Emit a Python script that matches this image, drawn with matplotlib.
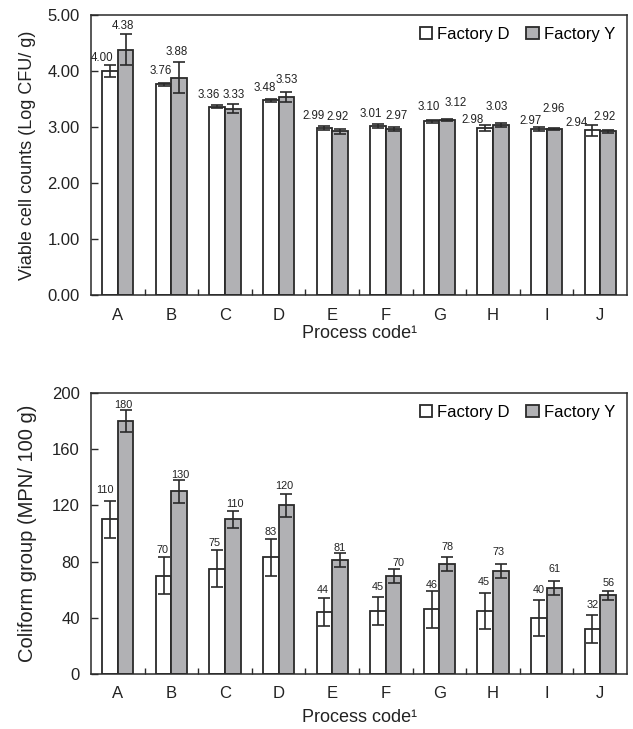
import numpy as np
import matplotlib
matplotlib.use("Agg")
import matplotlib.pyplot as plt

plt.rcParams["font.family"] = ["Liberation Sans", "DejaVu Sans"]

codes = ["A", "B", "C", "D", "E", "F", "G", "H", "I", "J"]

# viable cell counts (Log CFU/ g)
viable_d = [4.00, 3.76, 3.36, 3.48, 2.99, 3.01, 3.10, 2.98, 2.97, 2.94]
viable_d_err = [0.10, 0.025, 0.025, 0.025, 0.035, 0.035, 0.03, 0.055, 0.035, 0.10]
viable_y = [4.38, 3.88, 3.33, 3.53, 2.92, 2.97, 3.12, 3.03, 2.96, 2.92]
viable_y_err = [0.28, 0.28, 0.08, 0.09, 0.05, 0.035, 0.02, 0.035, 0.015, 0.03]

# coliform group (MPN/ 100 g)
coli_d = [110, 70, 75, 83, 44, 45, 46, 45, 40, 32]
coli_d_err = [13, 13, 13, 13, 10, 10, 13, 13, 13, 10]
coli_y = [180, 130, 110, 120, 81, 70, 78, 73, 61, 56]
coli_y_err = [8, 8, 6, 8, 5, 5, 5, 5, 5, 3]

# value label placement (hand placed in the original): x shift in px, y centre
viable_d_lab = [(-7.5, 4.23), (-2.6, 4.00), (-8, 3.58), (-5.8, 3.69), (-10.4, 3.20),
                (-7.7, 3.24), (-2.9, 3.35), (-12.7, 3.125), (-7.8, 3.11), (-15.4, 3.08)]
viable_y_lab = [(-2.6, 4.81), (-2.2, 4.34), (1.2, 3.58), (0, 3.84), (-2, 3.17),
                (3.4, 3.20), (8.8, 3.42), (-3.8, 3.35), (-0.4, 3.32), (-3, 3.17)]
coli_d_lab = [(-5.3, 131.1), (-1, 88.3), (-3, 93.1), (0, 101), (-1.4, 59.9),
              (0, 61.8), (0, 63.4), (-1.2, 65.8), (0, 59.9), (0, 49.2)]
coli_y_lab = [(-2, 191.7), (0.8, 141.8), (2.5, 121.1), (-2.4, 134), (0, 90),
              (5, 79.3), (0.8, 90.7), (-2, 86.5), (0, 74.6), (0.8, 64.6)]

W, H = 633, 729
fig = plt.figure(figsize=(W / 100, H / 100), dpi=100)

gray = "#b1b1b4"
edge = "#2a2a2a"
bw = 0.29


def panel(ax, d, de, y, ye, dlab, ylab, ylim, yticks, fmt, ylabel, ysize,
          vsize, xlab_y, ylab_x):
    x = np.arange(len(codes))
    ax.bar(x - bw / 2, d, bw, color="white", edgecolor=edge, linewidth=1.3,
           label="Factory D", zorder=2)
    ax.bar(x + bw / 2, y, bw, color=gray, edgecolor=edge, linewidth=1.3,
           label="Factory Y", zorder=2)
    ax.errorbar(x - bw / 2, d, yerr=de, fmt="none", ecolor=edge, elinewidth=1.2,
                capsize=4.5, capthick=1.2, zorder=3)
    ax.errorbar(x + bw / 2, y, yerr=ye, fmt="none", ecolor=edge, elinewidth=1.2,
                capsize=4.5, capthick=1.2, zorder=3)
    for i in range(len(codes)):
        ax.annotate(fmt % d[i], xy=(x[i] - bw / 2, dlab[i][1]),
                    xytext=(dlab[i][0] * 0.72, 0), textcoords="offset points",
                    ha="center", va="center", fontsize=vsize, color="#222222")
        ax.annotate(fmt % y[i], xy=(x[i] + bw / 2, ylab[i][1]),
                    xytext=(ylab[i][0] * 0.72, 0), textcoords="offset points",
                    ha="center", va="center", fontsize=vsize, color="#222222")
    ax.set_xlim(-0.5, len(codes) - 0.5)
    ax.set_ylim(*ylim)
    ax.set_yticks(yticks)
    ax.set_yticklabels([fmt % t for t in yticks], fontsize=12, color="#222222")
    ax.set_xticks(x)
    ax.set_xticklabels(codes, fontsize=12, color="#222222")
    ax.set_xticks(np.arange(0.5, len(codes) - 1, 1), minor=True)
    ax.tick_params(axis="x", which="major", length=0, pad=9)
    ax.tick_params(axis="x", which="minor", direction="in", length=4,
                   width=1.0, color=edge)
    ax.tick_params(axis="y", direction="in", length=5, width=1.0,
                   color=edge, pad=8)
    for s in ax.spines.values():
        s.set_color(edge)
        s.set_linewidth(1.1)
    ax.set_xlabel("Process code\u00b9", fontsize=13, color="#222222")
    ax.xaxis.set_label_coords(0.5, xlab_y)
    ax.set_ylabel(ylabel, fontsize=ysize, color="#222222")
    ax.yaxis.set_label_coords(ylab_x, 0.5)
    ax.legend(loc="upper right", ncol=2, frameon=False, fontsize=12,
              handlelength=0.75, handleheight=0.75, handletextpad=0.3,
              columnspacing=1.0, borderaxespad=0.3)


ax1 = fig.add_axes([91 / W, 1 - 295 / H, 536 / W, 280 / H])
panel(ax1, viable_d, viable_d_err, viable_y, viable_y_err, viable_d_lab,
      viable_y_lab, (0, 5), [0, 1, 2, 3, 4, 5], "%.2f",
      "Viable cell counts (Log CFU/ g)", 13, 8.3, -30 / 280, -55 / 536)

ax2 = fig.add_axes([91 / W, 1 - 674 / H, 536 / W, 281 / H])
panel(ax2, coli_d, coli_d_err, coli_y, coli_y_err, coli_d_lab, coli_y_lab,
      (0, 200), [0, 40, 80, 120, 160, 200], "%d",
      "Coliform group (MPN/ 100 g)", 14.5, 7.8, -35 / 281, -54 / 536)

fig.savefig("out.png", dpi=100)
